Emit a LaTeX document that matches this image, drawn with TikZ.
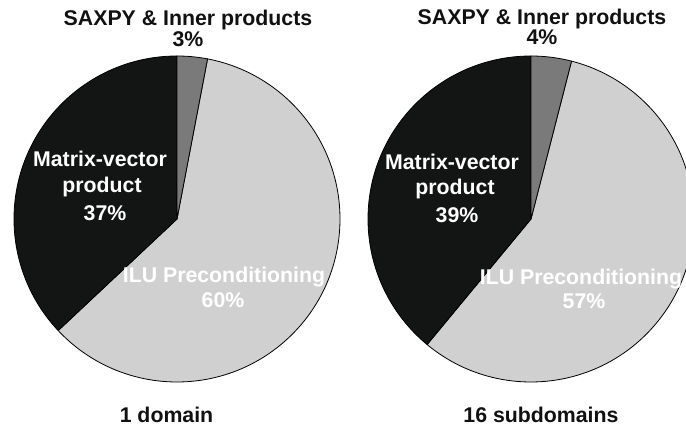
\documentclass[tikz,border=0pt]{standalone}
\usepackage{fontspec}
\setmainfont{Liberation Sans}
\definecolor{mvblack}{HTML}{131514}
\definecolor{saxgray}{HTML}{7A7A7A}
\definecolor{ilugray}{HTML}{D0D0D0}
\definecolor{txtblack}{HTML}{111111}
\tikzset{
  lbl/.style={anchor=base, inner sep=0pt, font=\bfseries\fontsize{21.3}{25}\selectfont},
  dark/.style={lbl, text=txtblack},
  light/.style={lbl, text=white},
  sector/.style={draw=black, line width=0.8pt, line join=round}
}
\begin{document}
\begin{tikzpicture}[x=1pt,y=1pt]
\useasboundingbox (0,0) rectangle (686,430);
\clip (0,0) rectangle (686,430);
% ---------- left pie: 1 domain ----------
\coordinate (cl) at (177,211);
\fill[ilugray, sector] (cl) -- ++(-136.8:163) arc[start angle=-136.8, end angle=79.2, radius=163] -- cycle;
\fill[mvblack, sector] (cl) -- ++(90:163) arc[start angle=90, end angle=223.2, radius=163] -- cycle;
\fill[saxgray, sector] (cl) -- ++(79.2:163) arc[start angle=79.2, end angle=90, radius=163] -- cycle;
\node[dark] (lt1) at (188,404) {SAXPY \& Inner products};
\node[dark] (lt2) at (188,383) {3\%};
\node[light] (lm1) at (100,263) {Matrix-vector};
\node[light] (lm2) at (102,237) {product};
\node[light] (lm3) at (105,209) {37\%};
\node[light] (li1) at (224,147) {ILU Preconditioning};
\node[light] (li2) at (223,122) {60\%};
\node[dark] (lb) at (166.5,7) {1 domain};
% ---------- right pie: 16 subdomains ----------
\coordinate (cr) at (531,211);
\fill[ilugray, sector] (cr) -- ++(-129.6:163) arc[start angle=-129.6, end angle=75.6, radius=163] -- cycle;
\fill[mvblack, sector] (cr) -- ++(90:163) arc[start angle=90, end angle=230.4, radius=163] -- cycle;
\fill[saxgray, sector] (cr) -- ++(75.6:163) arc[start angle=75.6, end angle=90, radius=163] -- cycle;
\node[dark] (rt1) at (542,405) {SAXPY \& Inner products};
\node[dark] (rt2) at (542,385) {4\%};
\node[light] (rm1) at (452,260) {Matrix-vector};
\node[light] (rm2) at (455,235) {product};
\node[light] (rm3) at (457,207) {39\%};
\node[light] (ri1) at (581,145) {ILU Preconditioning};
\node[light] (ri2) at (584,121) {57\%};
\node[dark] (rb) at (541,7) {16 subdomains};
\end{tikzpicture}
\end{document}
